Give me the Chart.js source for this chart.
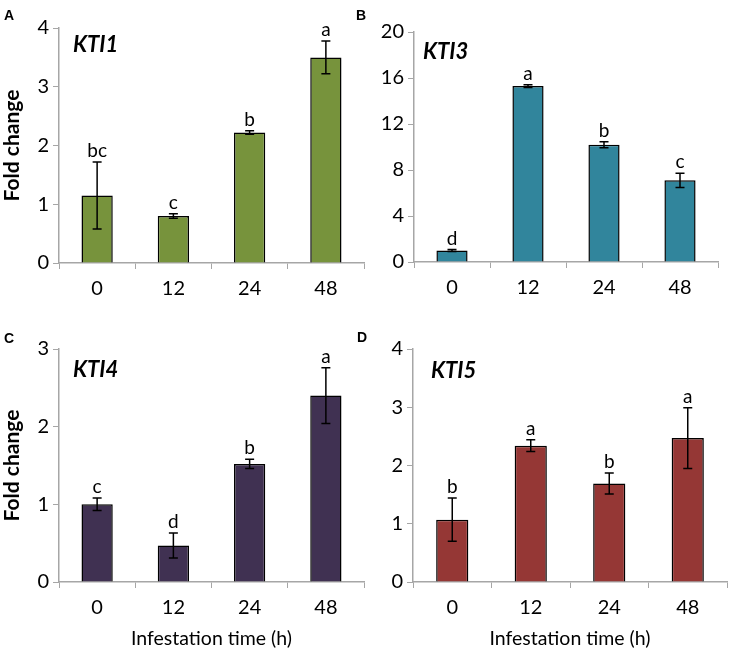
<!DOCTYPE html>
<html>
<head>
<meta charset="utf-8">
<script src="https://cdn.jsdelivr.net/npm/chart.js@4/dist/chart.umd.min.js"></script>
<style>
  body { margin: 0; background: #fff; }
  #wrap { position: relative; width: 730px; height: 654px; font-family: Lato, "Open Sans", sans-serif; }
  .panel { position: absolute; }
  .letter { position: absolute; font: bold 14px "Liberation Sans", Arial, sans-serif; color: #000; }
</style>
</head>
<body>
<div id="wrap">
  <div class="panel" style="left:0;top:0;width:365px;height:310px"><canvas id="cA"></canvas></div>
  <div class="panel" style="left:365px;top:0;width:365px;height:310px"><canvas id="cB"></canvas></div>
  <div class="panel" style="left:0;top:310px;width:365px;height:344px"><canvas id="cC"></canvas></div>
  <div class="panel" style="left:365px;top:310px;width:365px;height:344px"><canvas id="cD"></canvas></div>
  <div class="letter" style="left:4px;top:7px">A</div>
  <div class="letter" style="left:356px;top:7px">B</div>
  <div class="letter" style="left:4px;top:330px">C</div>
  <div class="letter" style="left:357px;top:329px">D</div>
</div>
<script>
// time points (h)
const horas = ["0", "12", "24", "48"];

// KTI1
const kti1Media = [1.15, 0.80, 2.22, 3.50];
const kti1Erro = [0.57, 0.04, 0.03, 0.28];
const kti1Letras = ["bc", "c", "b", "a"];

// KTI3
const kti3Media = [1.0, 15.3, 10.2, 7.1];
const kti3Erro = [0.08, 0.12, 0.26, 0.62];
const kti3Letras = ["d", "a", "b", "c"];

// KTI4
const kti4Media = [1.00, 0.47, 1.52, 2.40];
const kti4Erro = [0.08, 0.16, 0.06, 0.36];
const kti4Letras = ["c", "d", "b", "a"];

// KTI5
const kti5Media = [1.07, 2.34, 1.69, 2.47];
const kti5Erro = [0.37, 0.10, 0.18, 0.52];
const kti5Letras = ["b", "a", "b", "a"];

const fonte = "Lato, 'Open Sans', sans-serif";
const corEixo = "#a6a6a6";

// error bars + significance letters + gene name
const extras = {
  id: "extras",
  afterDatasetsDraw(chart, args, opts) {
    const ctx = chart.ctx;
    const x = chart.scales.x, y = chart.scales.y;
    ctx.save();
    ctx.strokeStyle = "#000";
    ctx.lineWidth = 1.5;
    opts.media.forEach((v, i) => {
      const cx = x.getPixelForValue(i);
      const yTop = y.getPixelForValue(v + opts.erro[i]);
      const yBot = y.getPixelForValue(v - opts.erro[i]);
      ctx.beginPath();
      ctx.moveTo(cx, yTop); ctx.lineTo(cx, yBot);
      ctx.moveTo(cx - 4.5, yTop); ctx.lineTo(cx + 4.5, yTop);
      ctx.moveTo(cx - 4.5, yBot); ctx.lineTo(cx + 4.5, yBot);
      ctx.stroke();
      ctx.fillStyle = "#000";
      ctx.font = "19px " + fonte;
      ctx.textAlign = "center";
      ctx.textBaseline = "alphabetic";
      ctx.fillText(opts.letras[i], cx, yTop - 5);
    });
    ctx.font = "italic bold 22px " + fonte;
    ctx.textAlign = "left";
    ctx.textBaseline = "middle";
    ctx.fillText(opts.gene, opts.gx, opts.gy);
    ctx.restore();
  }
};

function grafico(id, media, erro, letras, cor, gene, cfg) {
  const ctx = document.getElementById(id).getContext("2d");
  return new Chart(ctx, {
    type: "bar",
    data: {
      labels: horas,
      datasets: [{
        data: media,
        backgroundColor: cor,
        borderColor: "#000",
        borderWidth: 1.5,
        categoryPercentage: 1,
        barPercentage: 0.41
      }]
    },
    options: {
      animation: false,
      responsive: true,
      maintainAspectRatio: false,
      layout: { padding: { top: cfg.top, right: cfg.right, left: 0, bottom: 0 } },
      scales: {
        x: {
          grid: { offset: true, drawOnChartArea: false, drawTicks: true, tickLength: 6, color: corEixo },
          border: { color: corEixo, width: 1.5 },
          ticks: { color: "#000", font: { family: fonte, size: 20 }, padding: 8 },
          title: {
            display: cfg.xTitulo,
            text: "Infestation time (h)",
            color: "#000",
            font: { family: fonte, size: 19.5 },
            padding: { top: 10 }
          },
          afterFit(s) { s.height = cfg.xAltura; }
        },
        y: {
          min: 0,
          max: cfg.max,
          ticks: { stepSize: cfg.passo, color: "#000", font: { family: fonte, size: 20 }, padding: 4 },
          grid: { drawOnChartArea: false, drawTicks: true, tickLength: 6, color: corEixo },
          border: { color: corEixo, width: 1.5 },
          title: {
            display: cfg.yTitulo,
            text: "Fold change",
            color: "#000",
            font: { family: fonte, size: 21, weight: "bold" },
            padding: { top: 0, bottom: 2 }
          },
          afterFit(s) { s.width = cfg.yLargura; }
        }
      },
      plugins: {
        legend: { display: false },
        tooltip: { enabled: false },
        extras: { media: media, erro: erro, letras: letras, gene: gene, gx: cfg.gx, gy: cfg.gy }
      }
    },
    plugins: [extras]
  });
}

grafico("cA", kti1Media, kti1Erro, kti1Letras, "#77933c", "KTI1",
  { top: 28, right: 1, max: 4, passo: 1, xAltura: 47, yLargura: 59, yTitulo: true, xTitulo: false, gx: 73, gy: 45 });
grafico("cB", kti3Media, kti3Erro, kti3Letras, "#31859c", "KTI3",
  { top: 32, right: 12, max: 20, passo: 4, xAltura: 48, yLargura: 49, yTitulo: false, xTitulo: false, gx: 58, gy: 52 });
grafico("cC", kti4Media, kti4Erro, kti4Letras, "#403152", "KTI4",
  { top: 39, right: 1, max: 3, passo: 1, xAltura: 72, yLargura: 59, yTitulo: true, xTitulo: true, gx: 73, gy: 60 });
grafico("cD", kti5Media, kti5Erro, kti5Letras, "#953735", "KTI5",
  { top: 39, right: 3, max: 4, passo: 1, xAltura: 72, yLargura: 48, yTitulo: false, xTitulo: true, gx: 66, gy: 61 });
</script>
</body>
</html>
